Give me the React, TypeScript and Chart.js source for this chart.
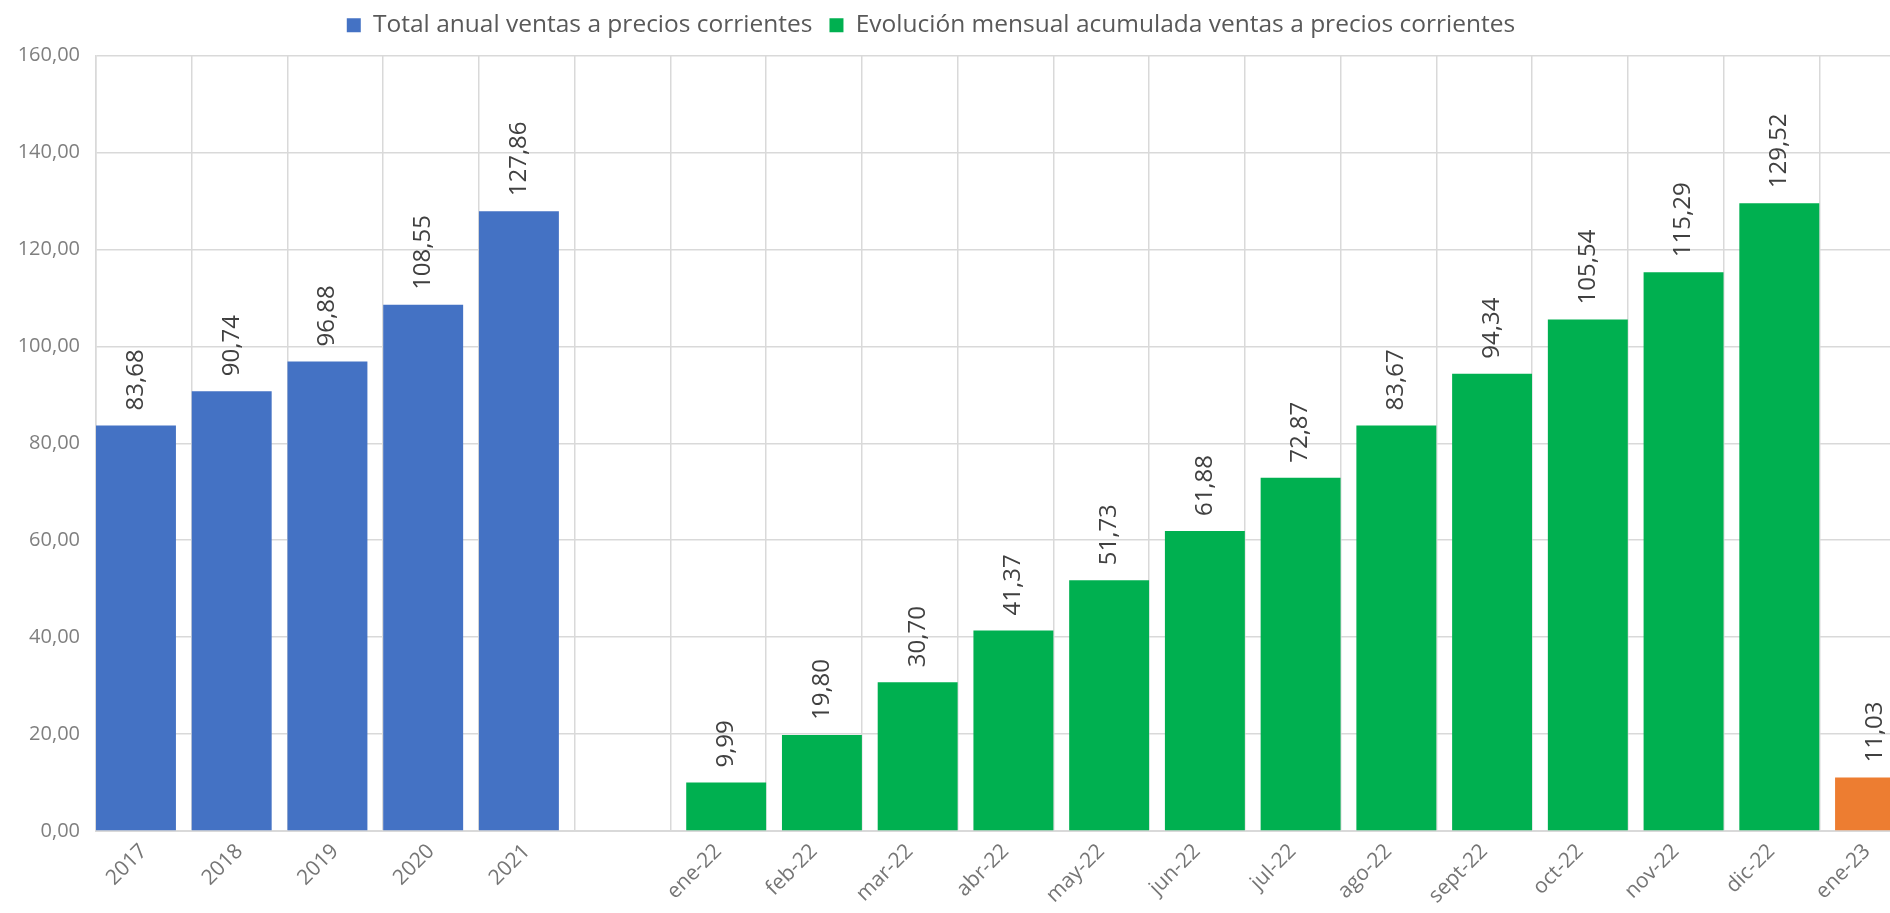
import React, { useEffect, useRef } from 'react';
import { Chart, registerables } from 'chart.js';

Chart.register(...registerables);

const yearLabels = ['2017', '2018', '2019', '2020', '2021'];
const gapLabels = [''];
const monthLabels = ['ene-22', 'feb-22', 'mar-22', 'abr-22', 'may-22', 'jun-22', 'jul-22', 'ago-22', 'sept-22', 'oct-22', 'nov-22', 'dic-22', 'ene-23'];

const yearValues = [83.68, 90.74, 96.88, 108.55, 127.86];
const monthValues = [9.99, 19.8, 30.7, 41.37, 51.73, 61.88, 72.87, 83.67, 94.34, 105.54, 115.29, 129.52, 11.03];

const seriesNames = ['Total anual ventas a precios corrientes', 'Evolución mensual acumulada ventas a precios corrientes'];
const yMin = 0;
const yMax = 160;
const yStep = 20;

const BLUE = '#4472C4';
const GREEN = '#00B050';
const ORANGE = '#ED7D31';
const GRID = '#D9D9D9';
const FONT = "'Open Sans', 'Noto Sans', sans-serif";

const fmt = (v: number) => v.toFixed(2).replace('.', ',');

const LEGEND_CENTER = 931;
const LEGEND_DY = -8;

const legendShift = {
  id: 'legendShift',
  afterLayout(chart: any) {
    const lg = chart.legend;
    if (!lg) return;
    const cur = (lg.left + lg.right) / 2;
    const d = LEGEND_CENTER - cur;
    lg.left += d;
    lg.right += d;
    lg.top += LEGEND_DY;
    lg.bottom += LEGEND_DY;
  },
};

const valueLabels = {
  id: 'valueLabels',
  afterDatasetsDraw(chart: any) {
    const ctx = chart.ctx;
    ctx.save();
    ctx.font = `24px ${FONT}`;
    ctx.fillStyle = '#404040';
    ctx.textAlign = 'left';
    ctx.textBaseline = 'middle';
    chart.data.datasets.forEach((ds: any, di: number) => {
      const meta = chart.getDatasetMeta(di);
      meta.data.forEach((el: any, i: number) => {
        const v = ds.data[i];
        if (v === null || v === undefined) return;
        ctx.save();
        ctx.translate(el.x, el.y - 15);
        ctx.rotate(-Math.PI / 2);
        ctx.fillText(fmt(v), 0, 0);
        ctx.restore();
      });
    });
    ctx.restore();
  },
};

export default function App() {
  const ref = useRef<HTMLCanvasElement | null>(null);

  useEffect(() => {
    if (!ref.current) return;
    const labels = [...yearLabels, ...gapLabels, ...monthLabels];
    const nYear = yearLabels.length;
    const nGap = gapLabels.length;
    const nMonth = monthLabels.length;
    const data1 = [...yearValues, ...Array(nGap + nMonth).fill(null)];
    const data2 = [...Array(nYear + nGap).fill(null), ...monthValues];
    const lastIdx = labels.length - 1;

    const chart = new Chart(ref.current, {
      type: 'bar',
      data: {
        labels,
        datasets: [
          {
            label: seriesNames[0],
            data: data1,
            backgroundColor: BLUE,
            borderWidth: 0,
          },
          {
            label: seriesNames[1],
            data: data2,
            backgroundColor: (c: any) => (c.dataIndex === lastIdx ? ORANGE : GREEN),
            borderWidth: 0,
          },
        ],
      },
      options: {
        responsive: false,
        animation: false,
        layout: { padding: { left: 0, right: 0, top: 4, bottom: 0 } },
        datasets: {
          bar: { categoryPercentage: 0.33, barPercentage: 5.06 },
        },
        plugins: {
          tooltip: { enabled: false },
          legend: {
            position: 'top',
            labels: {
              boxWidth: 14,
              boxHeight: 14,
              padding: 17,
              color: '#595959',
              font: { family: FONT, size: 24.5 },
              generateLabels: (chart: any) =>
                chart.data.datasets.map((ds: any, i: number) => ({
                  text: ds.label,
                  fillStyle: i === 0 ? BLUE : GREEN,
                  strokeStyle: 'transparent',
                  lineWidth: 0,
                  fontColor: '#595959',
                  hidden: false,
                  datasetIndex: i,
                })),
            },
          },
        },
        scales: {
          x: {
            stacked: false,
            grid: { color: GRID, lineWidth: 1.5, drawTicks: false, offset: true },
            border: { color: GRID, width: 2 },
            ticks: {
              color: '#757575',
              font: { family: FONT, size: 21 },
              maxRotation: 45,
              minRotation: 45,
              padding: 8,
              autoSkip: false,
            },
            afterFit: (s: any) => {
              s.height = 82;
            },
          },
          y: {
            min: yMin,
            max: yMax,
            ticks: {
              stepSize: yStep,
              color: '#7F7F7F',
              font: { family: FONT, size: 20 },
              padding: 16,
              callback: (v: any) => fmt(Number(v)),
            },
            grid: { color: GRID, lineWidth: 1.5, drawTicks: false },
            border: { color: GRID, width: 1.5 },
            afterFit: (s: any) => {
              s.width = 96;
            },
          },
        },
      },
      plugins: [legendShift, valueLabels],
    } as any);
    return () => chart.destroy();
  }, []);

  return (
    <div style={{ position: 'fixed', left: 0, top: 0, width: 1890, height: 913, overflow: 'hidden', background: '#fff' }}>
      <canvas ref={ref} width={1915} height={913} style={{ width: 1915, height: 913, display: 'block' }} />
    </div>
  );
}
